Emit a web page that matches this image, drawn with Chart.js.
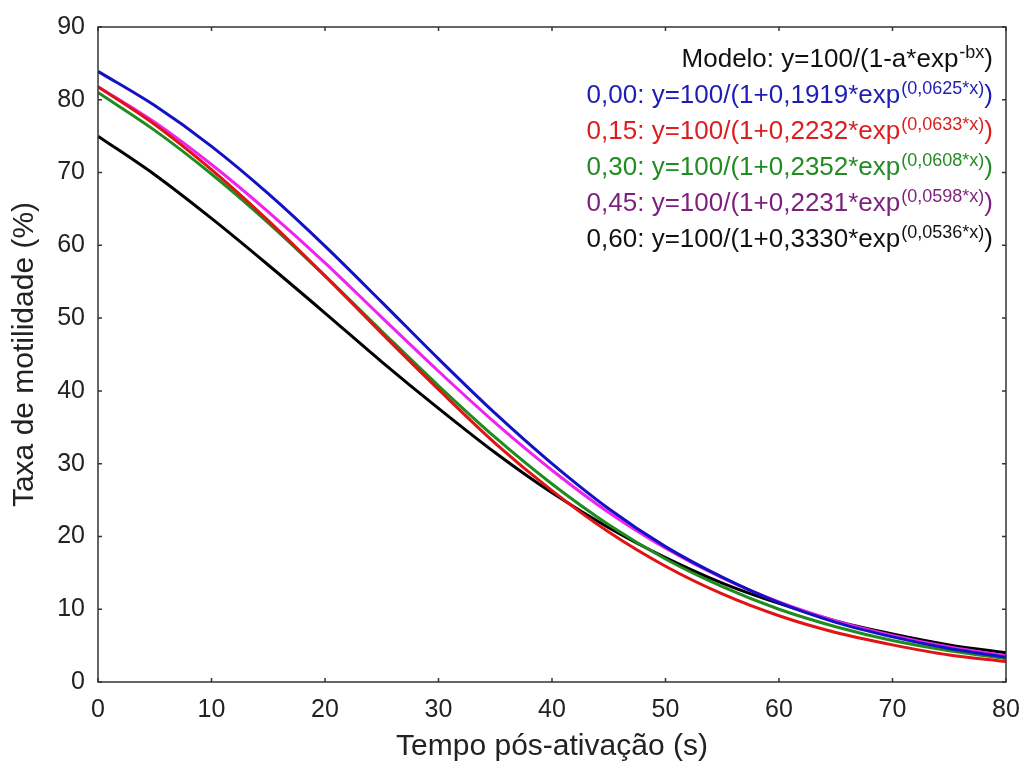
<!DOCTYPE html>
<html>
<head>
<meta charset="utf-8">
<script src="https://cdn.jsdelivr.net/npm/chart.js@4"></script>
<style>
  html, body { margin: 0; padding: 0; background: #fff; }
</style>
</head>
<body>
<canvas id="motilidade" width="1024" height="767"></canvas>
<script>
// tempo (s) e taxa de motilidade (%)
const tempo = [0, 5, 10, 15, 20, 25, 30, 35, 40, 45, 50, 55, 60, 65, 70, 75, 80];
const taxa000 = [83.9, 79.2, 73.6, 67.1, 59.9, 52.2, 44.4, 36.9, 30.0, 23.8, 18.6, 14.4, 10.9, 8.2, 6.2, 4.6, 3.4];
const taxa015 = [81.8, 76.6, 70.4, 63.4, 55.8, 47.9, 40.2, 32.8, 26.3, 20.6, 15.9, 12.1, 9.1, 6.8, 5.1, 3.7, 2.8];
const taxa030 = [81.0, 75.8, 69.8, 63.1, 55.8, 48.2, 40.7, 33.6, 27.2, 21.6, 16.9, 13.1, 10.0, 7.6, 5.7, 4.3, 3.2];
const taxa045 = [81.8, 76.9, 71.1, 64.6, 57.6, 50.1, 42.7, 35.6, 29.1, 23.3, 18.4, 14.3, 11.0, 8.4, 6.4, 4.8, 3.6];
const taxa060 = [75.0, 69.7, 63.7, 57.3, 50.7, 44.0, 37.6, 31.5, 26.0, 21.2, 17.1, 13.6, 10.8, 8.4, 6.6, 5.1, 4.0];

const doses = ['0,00', '0,15', '0,30', '0,45', '0,60'];
const coefA = ['0,1919', '0,2232', '0,2352', '0,2231', '0,3330'];
const coefB = ['0,0625', '0,0633', '0,0608', '0,0598', '0,0536'];

const corLinha = ['#1212c4', '#e01414', '#1f8c1f', '#f022f0', '#000000'];
const corTexto = ['#1e1eb4', '#dc1e1e', '#218c21', '#7d1f7d', '#111111'];

const fonte = "'Liberation Sans', Arial, sans-serif";

const series = [taxa000, taxa015, taxa030, taxa045, taxa060];
const datasets = series.map((vals, i) => ({
  label: doses[i],
  data: tempo.map((t, k) => ({ x: t, y: vals[k] })),
  borderColor: corLinha[i],
  borderWidth: 3,
  pointRadius: 0,
  cubicInterpolationMode: 'monotone',
  fill: false
}));

// moldura com marcas de escala para dentro
const moldura = {
  id: 'moldura',
  afterDatasetsDraw(chart) {
    const { ctx, chartArea: a, scales } = chart;
    ctx.save();
    ctx.strokeStyle = '#333';
    ctx.lineWidth = 1.5;
    ctx.strokeRect(a.left, a.top, a.right - a.left, a.bottom - a.top);
    ctx.beginPath();
    scales.x.ticks.forEach(t => {
      const px = scales.x.getPixelForValue(t.value);
      ctx.moveTo(px, a.bottom); ctx.lineTo(px, a.bottom - 4);
      ctx.moveTo(px, a.top); ctx.lineTo(px, a.top + 4);
    });
    scales.y.ticks.forEach(t => {
      const py = scales.y.getPixelForValue(t.value);
      ctx.moveTo(a.left, py); ctx.lineTo(a.left + 4, py);
      ctx.moveTo(a.right, py); ctx.lineTo(a.right - 4, py);
    });
    ctx.stroke();
    ctx.restore();
  }
};

// legenda com as equações (expoente em sobrescrito)
const equacoes = {
  id: 'equacoes',
  afterDraw(chart) {
    const ctx = chart.ctx;
    const direita = 993;
    const base = [67, 103, 139, 175, 211, 247];
    const fMain = '26px ' + fonte;
    const fSup = '18px ' + fonte;
    const linhas = [{ cor: '#111', pre: 'Modelo: y=100/(1-a*exp', sup: '-bx', pos: ')' }];
    doses.forEach((d, i) => {
      linhas.push({ cor: corTexto[i], pre: d + ': y=100/(1+' + coefA[i] + '*exp', sup: '(' + coefB[i] + '*x)', pos: ')' });
    });
    ctx.save();
    ctx.textBaseline = 'alphabetic';
    ctx.textAlign = 'left';
    linhas.forEach((l, i) => {
      ctx.font = fMain;
      const w1 = ctx.measureText(l.pre).width;
      const w3 = ctx.measureText(l.pos).width;
      ctx.font = fSup;
      const w2 = ctx.measureText(l.sup).width;
      let x = direita - (w1 + w2 + w3 + 1);
      const y = base[i];
      ctx.fillStyle = l.cor;
      ctx.font = fMain;
      ctx.fillText(l.pre, x, y);
      x += w1;
      ctx.font = fSup;
      ctx.fillText(l.sup, x + 1, y - 9);
      x += w2 + 1;
      ctx.font = fMain;
      ctx.fillText(l.pos, x, y);
    });
    ctx.restore();
  }
};

new Chart(document.getElementById('motilidade'), {
  type: 'line',
  data: { datasets },
  options: {
    responsive: false,
    animation: false,
    devicePixelRatio: 1,
    layout: { padding: { top: 27, right: 18, left: 0, bottom: 0 } },
    plugins: { legend: { display: false }, tooltip: { enabled: false } },
    scales: {
      x: {
        type: 'linear',
        min: 0, max: 80,
        afterFit(s) { s.height = 85; s.paddingLeft = 0; s.paddingRight = 0; },
        grid: { display: false, drawTicks: false },
        border: { display: false },
        ticks: { stepSize: 10, padding: 13, color: '#222', font: { family: fonte, size: 25 } },
        title: { display: true, text: 'Tempo pós-ativação (s)', color: '#222', padding: { bottom: 2 }, font: { family: fonte, size: 30 } }
      },
      y: {
        min: 0, max: 90,
        afterFit(s) { s.width = 98; s.paddingTop = 0; s.paddingBottom = 0; },
        grid: { display: false, drawTicks: false },
        border: { display: false },
        ticks: { stepSize: 10, padding: 13, color: '#222', font: { family: fonte, size: 25 } },
        title: { display: true, text: 'Taxa de motilidade (%)', color: '#222', padding: { top: 7 }, font: { family: fonte, size: 30 } }
      }
    }
  },
  plugins: [moldura, equacoes]
});
</script>
</body>
</html>
